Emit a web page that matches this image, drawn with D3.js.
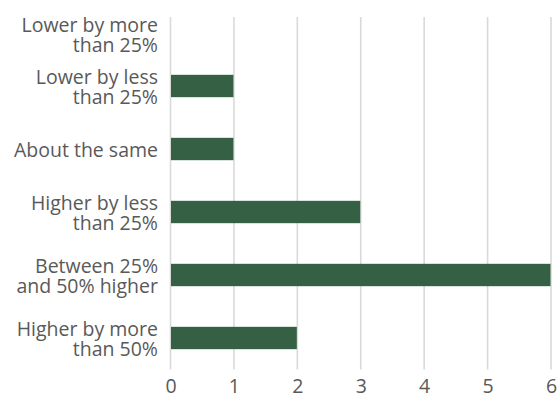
<!DOCTYPE html>
<html><head><meta charset="utf-8">
<script src="https://cdn.jsdelivr.net/npm/d3@7"></script>
<style>html,body{margin:0;padding:0;background:#fff;}svg{display:block;}</style>
</head><body>
<svg id="chart" width="557" height="394"></svg>
<script>
const categories = [
  ["Lower by more", "than 25%"],
  ["Lower by less", "than 25%"],
  ["About the same"],
  ["Higher by less", "than 25%"],
  ["Between 25%", "and 50% higher"],
  ["Higher by more", "than 50%"]
];
const values = [0, 1, 1, 3, 6, 2];
const xTicks = [0, 1, 2, 3, 4, 5, 6];

const svg = d3.select("#chart");
const plotLeft = 170.5, plotRight = 551, gridTop = 17, plotBottom = 369.5;
const step = 63;
const font = "'Open Sans', sans-serif";
const fontSize = 19.5;
const textColor = "#595959";

const keys = categories.map(d => d.join(" "));
const x = d3.scaleLinear().domain([0, 6]).range([plotLeft, plotRight]);
const y = d3.scaleBand().domain(keys)
  .range([plotBottom - step * keys.length, plotBottom])
  .paddingInner(0.645).paddingOuter(0.3225);

// gridlines
svg.append("g").selectAll("line").data(xTicks).join("line")
  .attr("x1", d => x(d)).attr("x2", d => x(d))
  .attr("y1", gridTop).attr("y2", plotBottom)
  .attr("stroke", "#d9d9d9").attr("stroke-width", 1.6);

// bars
svg.append("g").selectAll("rect").data(values).join("rect")
  .attr("x", x(0) + 0.5)
  .attr("y", (d, i) => y(keys[i]))
  .attr("width", d => Math.max(0, x(d) - x(0) - 1))
  .attr("height", y.bandwidth())
  .attr("fill", "#356043");

// x axis tick labels
const xAxis = d3.axisBottom(x).tickValues(xTicks).tickFormat(d3.format("d")).tickSize(0).tickPadding(0);
const gx = svg.append("g").attr("transform", `translate(0,${plotBottom})`).call(xAxis);
gx.select(".domain").remove();
gx.selectAll("text")
  .attr("y", 0).attr("dy", 0)
  .attr("transform", "translate(0,23.5)")
  .attr("font-family", font).attr("font-size", fontSize).attr("fill", textColor);

// category labels
const lineH = 20, capH = 14;
const labels = svg.append("g");
categories.forEach((lines, i) => {
  const c = y(keys[i]) + y.bandwidth() / 2;
  const n = lines.length;
  let b1 = c + 1 + capH / 2 - (n - 1) / 2 * lineH;
  b1 = Math.max(b1, gridTop + capH + 1);
  const t = labels.append("text")
    .attr("text-anchor", "end")
    .attr("font-family", font).attr("font-size", fontSize).attr("fill", textColor);
  lines.forEach((ln, k) => {
    t.append("tspan").attr("x", 158).attr("y", b1 + k * lineH).text(ln);
  });
});
</script>
</body></html>
